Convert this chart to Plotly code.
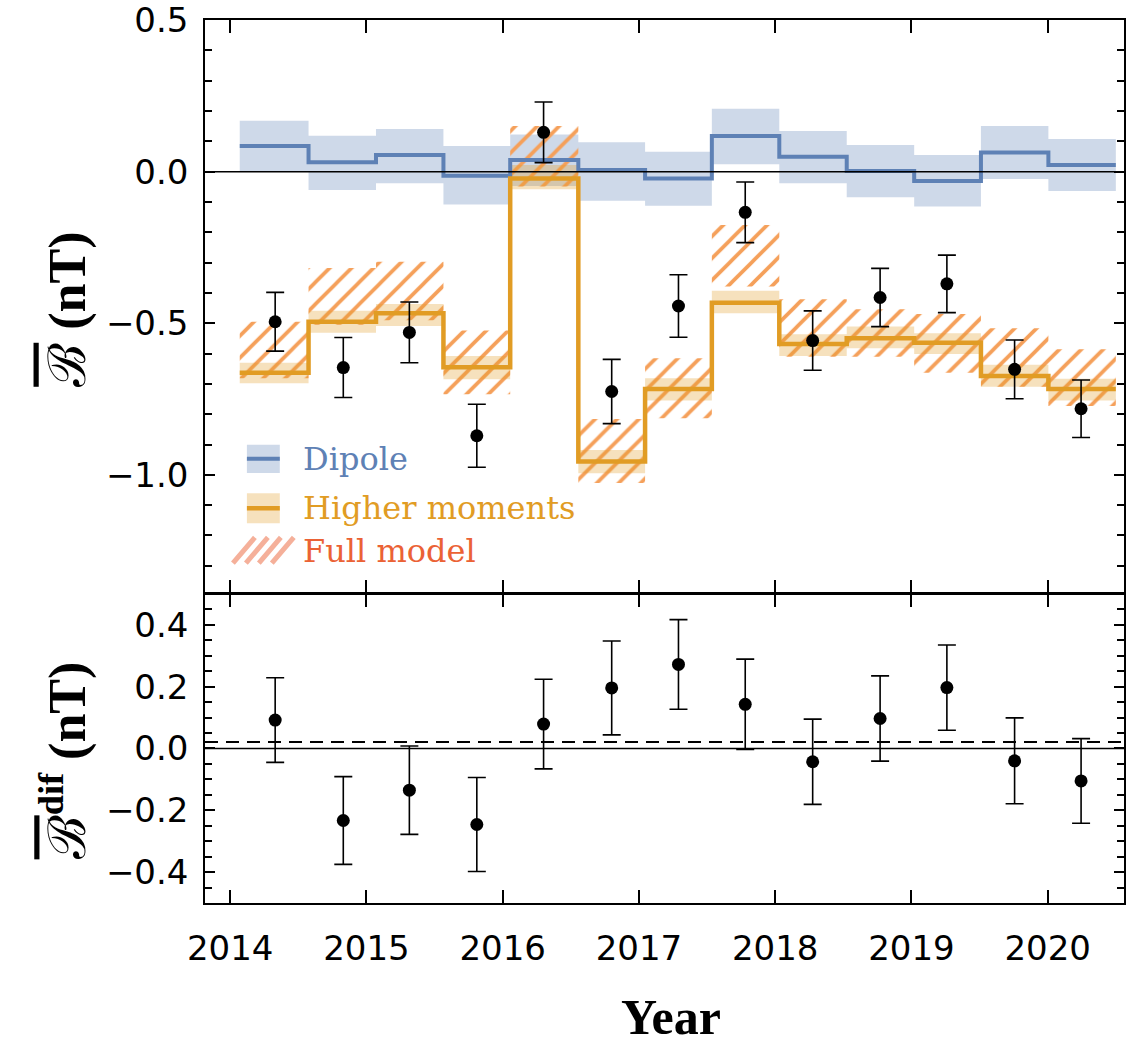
import plotly.graph_objects as go

# ---------------- data ----------------
bin_edges = [2014.07, 2014.575, 2015.07, 2015.565, 2016.055, 2016.555, 2017.045,
             2017.535, 2018.03, 2018.525, 2019.02, 2019.51, 2020.005, 2020.50]
obs_years = [2014.33, 2014.83, 2015.315, 2015.81, 2016.30, 2016.80, 2017.29,
             2017.78, 2018.275, 2018.77, 2019.26, 2019.757, 2020.245]

dipole    = [0.085, 0.031, 0.055, -0.013, 0.039, 0.006, -0.022, 0.118, 0.049, 0.002, -0.031, 0.063, 0.022]
dipole_lo = [0.000, -0.060, -0.038, -0.108, -0.047, -0.096, -0.112, 0.025, -0.038, -0.084, -0.115, -0.024, -0.064]
dipole_hi = [0.168, 0.119, 0.141, 0.085, 0.123, 0.097, 0.066, 0.208, 0.134, 0.088, 0.055, 0.151, 0.108]

higher    = [-0.663, -0.495, -0.467, -0.645, -0.022, -0.956, -0.717, -0.432, -0.568, -0.549, -0.564, -0.674, -0.717]
higher_lo = [-0.698, -0.531, -0.509, -0.685, -0.058, -0.995, -0.755, -0.467, -0.608, -0.582, -0.601, -0.709, -0.755]
higher_hi = [-0.630, -0.459, -0.436, -0.608, 0.022, -0.918, -0.681, -0.393, -0.536, -0.511, -0.533, -0.637, -0.683]

full_lo = [-0.681, -0.505, -0.490, -0.734, -0.049, -1.027, -0.813, -0.379, -0.610, -0.610, -0.663, -0.709, -0.773]
full_hi = [-0.495, -0.318, -0.297, -0.524, 0.151, -0.816, -0.615, -0.176, -0.421, -0.454, -0.469, -0.516, -0.586]

measured     = [-0.495, -0.646, -0.530, -0.871, 0.130, -0.725, -0.443, -0.134, -0.557, -0.415, -0.370, -0.652, -0.782]
measured_err = [0.097, 0.099, 0.100, 0.104, 0.100, 0.106, 0.103, 0.100, 0.098, 0.096, 0.095, 0.097, 0.095]

difference     = [0.092, -0.233, -0.135, -0.246, 0.079, 0.196, 0.272, 0.143, -0.043, 0.097, 0.197, -0.040, -0.105]
difference_err = [0.137, 0.142, 0.143, 0.152, 0.145, 0.152, 0.145, 0.146, 0.138, 0.138, 0.138, 0.139, 0.137]
difference_mean = 0.021

x_ticks = [2014, 2015, 2016, 2017, 2018, 2019, 2020]

# ---------------- styles ----------------
BLUE = "#5E81B5"
ORANGE = "#E19C24"
RED = "#EB6235"
HATCH = "#F5A05A"
BLUE_BAND = "rgba(94,129,181,0.30)"
ORANGE_BAND = "rgba(225,156,36,0.30)"
SERIF = "Liberation Serif"


def steps(vals):
    return list(vals) + [vals[-1]]


fig = go.Figure()

# dipole band
fig.add_trace(go.Scatter(x=bin_edges, y=steps(dipole_lo), mode="lines", line=dict(width=0, shape="hv"),
                         showlegend=False, hoverinfo="skip", xaxis="x", yaxis="y"))
fig.add_trace(go.Scatter(x=bin_edges, y=steps(dipole_hi), mode="lines", line=dict(width=0, shape="hv"),
                         fill="tonexty", fillcolor=BLUE_BAND, showlegend=False, hoverinfo="skip",
                         xaxis="x", yaxis="y"))
# full model hatched band
fig.add_trace(go.Scatter(x=bin_edges, y=steps(full_lo), mode="lines", line=dict(width=0, shape="hv"),
                         showlegend=False, hoverinfo="skip", xaxis="x", yaxis="y"))
fig.add_trace(go.Scatter(x=bin_edges, y=steps(full_hi), mode="lines", line=dict(width=0, shape="hv"),
                         fill="tonexty", fillcolor="rgba(0,0,0,0)",
                         fillpattern=dict(shape="/", fgcolor=HATCH, bgcolor="rgba(0,0,0,0)",
                                          size=15.5, solidity=0.24, fillmode="replace"),
                         showlegend=False, hoverinfo="skip", xaxis="x", yaxis="y"))
# higher moments band
fig.add_trace(go.Scatter(x=bin_edges, y=steps(higher_lo), mode="lines", line=dict(width=0, shape="hv"),
                         showlegend=False, hoverinfo="skip", xaxis="x", yaxis="y"))
fig.add_trace(go.Scatter(x=bin_edges, y=steps(higher_hi), mode="lines", line=dict(width=0, shape="hv"),
                         fill="tonexty", fillcolor=ORANGE_BAND, showlegend=False, hoverinfo="skip",
                         xaxis="x", yaxis="y"))
# step lines
fig.add_trace(go.Scatter(x=bin_edges, y=steps(dipole), mode="lines", line=dict(color=BLUE, width=4, shape="hv"),
                         name="Dipole", showlegend=False, xaxis="x", yaxis="y"))
fig.add_trace(go.Scatter(x=bin_edges, y=steps(higher), mode="lines",
                         line=dict(color=ORANGE, width=4.5, shape="hv"),
                         name="Higher moments", showlegend=False, xaxis="x", yaxis="y"))
# data points
fig.add_trace(go.Scatter(x=obs_years, y=measured, mode="markers",
                         marker=dict(color="black", size=13),
                         error_y=dict(type="data", array=measured_err, color="black", thickness=1.6, width=9),
                         showlegend=False, xaxis="x", yaxis="y"))
fig.add_trace(go.Scatter(x=obs_years, y=difference, mode="markers",
                         marker=dict(color="black", size=13),
                         error_y=dict(type="data", array=difference_err, color="black", thickness=1.6, width=9),
                         showlegend=False, xaxis="x2", yaxis="y2"))

# zero lines and mean line
fig.add_shape(type="line", xref="x domain", yref="y", x0=0, x1=1, y0=0, y1=0,
              line=dict(color="black", width=1.5), layer="above")
fig.add_shape(type="line", xref="x2 domain", yref="y2", x0=0, x1=1, y0=0, y1=0,
              line=dict(color="black", width=1.5), layer="above")
fig.add_shape(type="line", xref="x2 domain", yref="y2", x0=0, x1=1, y0=difference_mean, y1=difference_mean,
              line=dict(color="black", width=2, dash="13px,8px"), layer="above")

tickfont = dict(family="DejaVu Sans", size=34, color="black")
common_x = dict(range=[2013.815, 2020.56], tickmode="array", tickvals=x_ticks, ticks="inside", ticklen=13,
                tickwidth=1.5, tickcolor="black", showline=True, linecolor="black", linewidth=1.5,
                mirror="allticks", showgrid=False, zeroline=False)
common_y = dict(ticks="inside", tickwidth=1.5, tickcolor="black", ticklen=10,
                showline=True, linecolor="black", linewidth=1.5, mirror="allticks",
                showgrid=False, zeroline=False, tickfont=tickfont, tickformat=".1f", ticklabelstandoff=8)

fig.update_layout(
    width=1126, height=1047,
    margin=dict(l=205, r=0, t=20, b=144),
    paper_bgcolor="white", plot_bgcolor="white",
    showlegend=False,
    xaxis=dict(common_x, domain=[0, 1], anchor="y", showticklabels=False),
    yaxis=dict(common_y, domain=[0.351, 1], anchor="x", range=[-1.39, 0.5005], tick0=0, dtick=0.5,
               minor=dict(dtick=0.1, ticks="inside", ticklen=7, tickcolor="black", tickwidth=1.5)),
    xaxis2=dict(common_x, domain=[0, 1], anchor="y2", matches="x", showticklabels=True,
                tickfont=tickfont, ticklabelstandoff=14),
    yaxis2=dict(common_y, domain=[0, 0.350], anchor="x2", range=[-0.5, 0.5], tick0=0, dtick=0.2,
                minor=dict(dtick=0.05, ticks="inside", ticklen=7, tickcolor="black", tickwidth=1.5)),
)

# axis titles
fig.add_annotation(xref="paper", yref="paper", x=-0.150, y=0.672, textangle=-90, showarrow=False,
                   text='<span style="text-decoration:overline">ℬ</span> <b>(nT)</b>',
                   font=dict(family=SERIF, size=52, color="black"), xanchor="center", yanchor="middle")
fig.add_annotation(xref="paper", yref="paper", x=-0.153, y=0.162, textangle=-90, showarrow=False,
                   text='<span style="text-decoration:overline">ℬ</span><sup><b>dif</b></sup> <b>(nT)</b>',
                   font=dict(family=SERIF, size=52, color="black"), xanchor="center", yanchor="middle")
fig.add_annotation(xref="paper", yref="paper", x=0.507, y=-0.1615, showarrow=False,
                   text="<b>Year</b>", font=dict(family=SERIF, size=50, color="black"),
                   xanchor="center", yanchor="bottom", borderpad=0)

# legend (drawn in paper coordinates)
LEG_FONT = "DejaVu Serif"
fig.add_shape(type="rect", xref="paper", yref="paper", x0=0.0456, x1=0.0814, y0=0.487, y1=0.519,
              fillcolor=BLUE_BAND, line=dict(width=0))
fig.add_shape(type="line", xref="paper", yref="paper", x0=0.0456, x1=0.0814, y0=0.503, y1=0.503,
              line=dict(color=BLUE, width=4))
fig.add_shape(type="rect", xref="paper", yref="paper", x0=0.0456, x1=0.0814, y0=0.430, y1=0.464,
              fillcolor=ORANGE_BAND, line=dict(width=0))
fig.add_shape(type="line", xref="paper", yref="paper", x0=0.0456, x1=0.0814, y0=0.447, y1=0.447,
              line=dict(color=ORANGE, width=4.5))
hatch_path = ""
for k in range(4):
    xb = (233 + 13 * k - 205) / 921
    xt = (233 + 13 * k + 22 - 205) / 921
    hatch_path += f"M{xb:.4f},0.385 L{xt:.4f},0.414 "
fig.add_shape(type="path", xref="paper", yref="paper", path=hatch_path,
              line=dict(color="rgba(235,98,53,0.5)", width=5))

for label, color, yy in [("Dipole", BLUE, 0.503), ("Higher moments", ORANGE, 0.447), ("Full model", RED, 0.399)]:
    fig.add_annotation(xref="paper", yref="paper", x=0.105, y=yy, showarrow=False, text=label,
                       font=dict(family=LEG_FONT, size=32, color=color), xanchor="left", yanchor="middle")

fig.write_html("out.html", config={"displayModeBar": False},
               post_script="document.body.style.margin='0';document.body.style.padding='0';")
